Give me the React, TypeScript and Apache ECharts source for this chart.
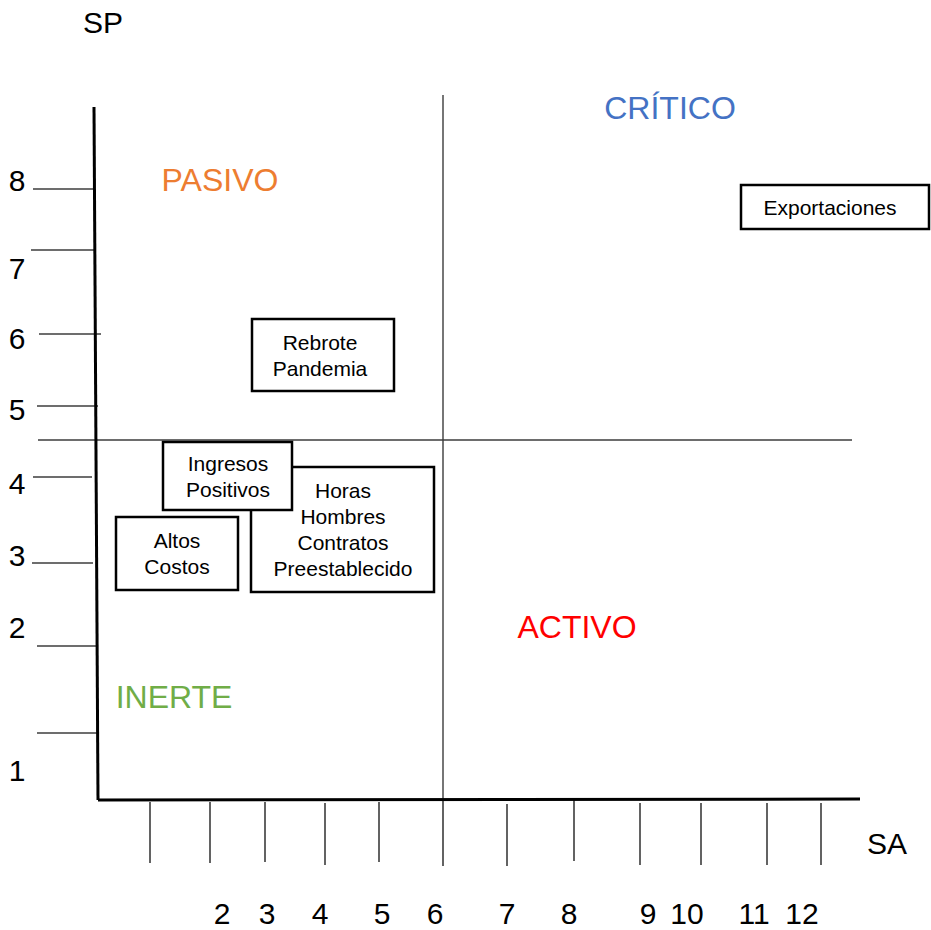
import React, { useEffect, useRef } from "react";
import * as echarts from "echarts";

const W = 931;
const H = 930;
const FONT = '"Liberation Sans", Arial, Helvetica, sans-serif';

// SP (vertical) axis: tick labels, label positions and tick-line positions on the sketch
const spLabels = ["8", "7", "6", "5", "4", "3", "2", "1"];
const spLabelPos = [180, 268, 338, 409, 483, 555, 627, 770];
const spTickPos = [189, 250, 334, 406, 477, 563, 646, 733];
const spTickStart = [33, 31, 39, 37, 33, 32, 37, 37];
const spTickEnd = [95, 94, 101, 98, 92, 93, 96, 97];

// SA (horizontal) axis
const saLabels = ["2", "3", "4", "5", "6", "7", "8", "9", "10", "11", "12"];
const saLabelPos = [222, 267, 320, 382, 435, 507, 569, 648, 687, 754, 802];
const saTickPos = [150, 210, 265, 325, 379, 443, 507, 574, 640, 701, 767, 821];
const saTickStart = [802, 802, 802, 803, 802, 801, 804, 800, 803, 803, 803, 803];
const saTickEnd = [863, 863, 862, 865, 862, 866, 866, 861, 865, 865, 865, 865];

// main axes and quadrant dividers: [x1, y1, x2, y2]
const axisSegments = [
  [94, 107, 98, 800],
  [98, 800, 860, 799],
];
const dividerSegments = [
  [443, 95, 443, 800],
  [38, 440, 852, 440],
];

// quadrants
const quadrantNames = ["CRÍTICO", "PASIVO", "ACTIVO", "INERTE"];
const quadrantX = [670, 220, 577, 174];
const quadrantY = [108, 180, 627, 697];
const quadrantColors = ["#4472C4", "#ED7D31", "#FF0000", "#70AD47"];

// boxes (drawn in this order)
const boxTexts = [
  "Horas\nHombres\nContratos\nPreestablecido",
  "Ingresos\nPositivos",
  "Altos\nCostos",
  "Rebrote\nPandemia",
  "Exportaciones",
];
const boxX0 = [251, 163, 116, 252, 741];
const boxY0 = [467, 442, 517, 319, 185];
const boxX1 = [434, 292, 238, 394, 929];
const boxY1 = [592, 510, 590, 391, 229];
const boxTextX = [343, 228, 177, 320, 830];

// axis titles
const axisTitles = ["SP", "SA"];
const axisTitleX = [103, 887];
const axisTitleY = [22, 843];

function segmentSeries(segs: number[][], color: string, width: number) {
  return {
    type: "custom",
    coordinateSystem: "cartesian2d",
    clip: false,
    silent: true,
    data: segs,
    renderItem: (_params: any, api: any) => {
      const p1 = api.coord([api.value(0), api.value(1)]);
      const p2 = api.coord([api.value(2), api.value(3)]);
      return {
        type: "line",
        shape: { x1: p1[0], y1: p1[1], x2: p2[0], y2: p2[1] },
        style: { stroke: color, lineWidth: width },
      };
    },
  };
}

function textSeries(
  xs: number[],
  ys: number[],
  texts: string[],
  fontSize: number,
  colorOf: (i: number) => string
) {
  return {
    type: "custom",
    coordinateSystem: "cartesian2d",
    clip: false,
    silent: true,
    data: xs.map((x, i) => [x, ys[i]]),
    renderItem: (params: any, api: any) => {
      const p = api.coord([api.value(0), api.value(1)]);
      return {
        type: "text",
        x: p[0],
        y: p[1],
        style: {
          text: texts[params.dataIndex],
          fill: colorOf(params.dataIndex),
          fontSize,
          fontFamily: FONT,
          align: "center",
          verticalAlign: "middle",
        },
      };
    },
  };
}

export default function App() {
  const ref = useRef<HTMLDivElement>(null);
  useEffect(() => {
    document.body.style.margin = "0";
    const chart = echarts.init(ref.current!, null, { renderer: "svg" });

    const spTicks = spTickPos.map((y, i) => [spTickStart[i], y, spTickEnd[i], y]);
    const saTicks = saTickPos.map((x, i) => [x, saTickStart[i], x, saTickEnd[i]]);

    const boxSeries = {
      type: "custom",
      coordinateSystem: "cartesian2d",
      clip: false,
      silent: true,
      data: boxX0.map((x, i) => [x, boxY0[i], boxX1[i], boxY1[i]]),
      renderItem: (params: any, api: any) => {
        const i = params.dataIndex;
        const p0 = api.coord([api.value(0), api.value(1)]);
        const p1 = api.coord([api.value(2), api.value(3)]);
        const pc = api.coord([boxTextX[i], (api.value(1) + api.value(3)) / 2]);
        return {
          type: "group",
          children: [
            {
              type: "rect",
              z2: i * 2,
              shape: { x: p0[0], y: p0[1], width: p1[0] - p0[0], height: p1[1] - p0[1] },
              style: { fill: "#ffffff", stroke: "#000000", lineWidth: 2.5 },
            },
            {
              type: "text",
              z2: i * 2 + 1,
              x: pc[0],
              y: pc[1],
              style: {
                text: boxTexts[i],
                fill: "#000000",
                fontSize: 21,
                lineHeight: 26,
                fontFamily: FONT,
                align: "center",
                verticalAlign: "middle",
              },
            },
          ],
        };
      },
    };

    chart.setOption({
      animation: false,
      backgroundColor: "#ffffff",
      grid: { left: 0, right: 0, top: 0, bottom: 0 },
      xAxis: { type: "value", min: 0, max: W, show: false },
      yAxis: { type: "value", min: 0, max: H, inverse: true, show: false },
      series: [
        segmentSeries(spTicks, "#3c3c3c", 1.6),
        segmentSeries(saTicks, "#3c3c3c", 1.6),
        segmentSeries(dividerSegments, "#3c3c3c", 1.4),
        segmentSeries(axisSegments, "#000000", 3),
        boxSeries,
        textSeries(quadrantX, quadrantY, quadrantNames, 32, (i) => quadrantColors[i]),
        textSeries(spLabelPos.map(() => 17), spLabelPos, spLabels, 30, () => "#000000"),
        textSeries(saLabelPos, saLabelPos.map(() => 913), saLabels, 30, () => "#000000"),
        textSeries(axisTitleX, axisTitleY, axisTitles, 30, () => "#000000"),
      ],
    });
    return () => chart.dispose();
  }, []);
  return <div ref={ref} style={{ width: W, height: H }} />;
}
